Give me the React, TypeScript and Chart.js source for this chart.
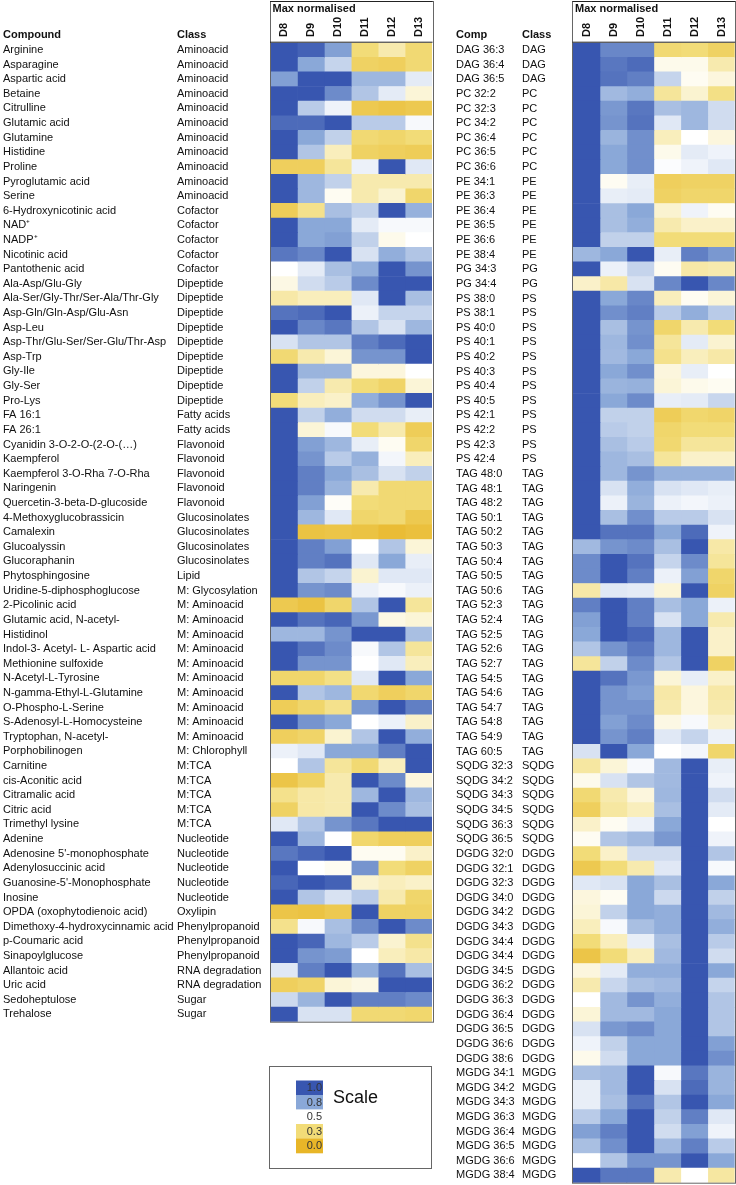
import React, { useEffect, useRef } from "react";
import { Chart, registerables } from "chart.js";

Chart.register(...registerables);

const COLUMNS = ["D8", "D9", "D10", "D11", "D12", "D13"];
const LEGEND_TICKS = [1.0, 0.8, 0.5, 0.3, 0.0];
const LEGEND_LABELS = ["1.0", "0.8", "0.5", "0.3", "0.0"];

const LEFT_COMPOUNDS = [
  "Arginine", "Asparagine", "Aspartic acid", "Betaine", "Citrulline", "Glutamic acid", "Glutamine",
  "Histidine", "Proline", "Pyroglutamic acid", "Serine", "6-Hydroxynicotinic acid", "NAD⁺", "NADP⁺",
  "Nicotinic acid", "Pantothenic acid", "Ala-Asp/Glu-Gly", "Ala-Ser/Gly-Thr/Ser-Ala/Thr-Gly",
  "Asp-Gln/Gln-Asp/Glu-Asn", "Asp-Leu", "Asp-Thr/Glu-Ser/Ser-Glu/Thr-Asp", "Asp-Trp", "Gly-Ile",
  "Gly-Ser", "Pro-Lys", "FA 16:1", "FA 26:1", "Cyanidin 3-O-2-O-(2-O-(…)", "Kaempferol",
  "Kaempferol 3-O-Rha 7-O-Rha", "Naringenin", "Quercetin-3-beta-D-glucoside", "4-Methoxyglucobrassicin",
  "Camalexin", "Glucoalyssin", "Glucoraphanin", "Phytosphingosine", "Uridine-5-diphosphoglucose",
  "2-Picolinic acid", "Glutamic acid, N-acetyl-", "Histidinol", "Indol-3- Acetyl- L- Aspartic acid",
  "Methionine sulfoxide", "N-Acetyl-L-Tyrosine", "N-gamma-Ethyl-L-Glutamine", "O-Phospho-L-Serine",
  "S-Adenosyl-L-Homocysteine", "Tryptophan, N-acetyl-", "Porphobilinogen", "Carnitine",
  "cis-Aconitic acid", "Citramalic acid", "Citric acid", "Trimethyl lysine", "Adenine",
  "Adenosine 5'-monophosphate", "Adenylosuccinic acid", "Guanosine-5'-Monophosphate", "Inosine",
  "OPDA (oxophytodienoic acid)", "Dimethoxy-4-hydroxycinnamic acid", "p-Coumaric acid",
  "Sinapoylglucose", "Allantoic acid", "Uric acid", "Sedoheptulose", "Trehalose",
];

const LEFT_CLASSES = [
  ...Array(11).fill("Aminoacid"),
  ...Array(5).fill("Cofactor"),
  ...Array(9).fill("Dipeptide"),
  ...Array(2).fill("Fatty acids"),
  ...Array(5).fill("Flavonoid"),
  ...Array(4).fill("Glucosinolates"),
  "Lipid",
  "M: Glycosylation",
  ...Array(10).fill("M: Aminoacid"),
  "M: Chlorophyll",
  ...Array(5).fill("M:TCA"),
  ...Array(5).fill("Nucleotide"),
  "Oxylipin",
  ...Array(3).fill("Phenylpropanoid"),
  ...Array(2).fill("RNA degradation"),
  ...Array(2).fill("Sugar"),
];

const LEFT_VALUES = [
  [1.0, 0.97, 0.82, 0.3, 0.38, 0.28],
  [1.0, 0.8, 0.65, 0.22, 0.2, 0.28],
  [0.82, 1.0, 1.0, 0.75, 0.75, 0.57],
  [1.0, 1.0, 0.87, 0.7, 0.57, 0.44],
  [1.0, 0.68, 0.54, 0.15, 0.12, 0.15],
  [0.95, 0.95, 1.0, 0.68, 0.68, 0.52],
  [1.0, 0.8, 0.66, 0.28, 0.25, 0.3],
  [1.0, 0.7, 0.4, 0.22, 0.2, 0.18],
  [0.2, 0.2, 0.35, 0.55, 1.0, 0.58],
  [1.0, 0.75, 0.66, 0.38, 0.38, 0.38],
  [1.0, 0.75, 0.48, 0.38, 0.43, 0.25],
  [0.18, 0.33, 0.72, 0.66, 1.0, 0.77],
  [1.0, 0.8, 0.8, 0.57, 0.52, 0.52],
  [1.0, 0.8, 0.82, 0.66, 0.47, 0.5],
  [0.92, 0.88, 1.0, 0.6, 0.78, 0.7],
  [0.5, 0.57, 0.72, 0.78, 1.0, 0.85],
  [0.46, 0.62, 0.68, 0.87, 1.0, 1.0],
  [0.37, 0.4, 0.4, 0.58, 1.0, 0.72],
  [0.93, 0.95, 1.0, 0.55, 0.65, 0.65],
  [1.0, 0.88, 0.92, 0.7, 0.6, 0.75],
  [0.6, 0.7, 0.7, 0.9, 0.95, 1.0],
  [0.28, 0.38, 0.44, 0.85, 0.85, 1.0],
  [1.0, 0.76, 0.76, 0.45, 0.45, 0.5],
  [1.0, 0.66, 0.38, 0.3, 0.24, 0.44],
  [0.3, 0.4, 0.42, 0.78, 0.85, 1.0],
  [1.0, 0.66, 0.78, 0.62, 0.62, 0.56],
  [1.0, 0.44, 0.52, 0.3, 0.38, 0.18],
  [1.0, 0.82, 0.75, 0.56, 0.48, 0.25],
  [1.0, 0.85, 0.68, 0.77, 0.53, 0.4],
  [1.0, 0.9, 0.8, 0.72, 0.6, 0.66],
  [1.0, 0.9, 0.76, 0.38, 0.28, 0.28],
  [1.0, 0.82, 0.49, 0.3, 0.28, 0.28],
  [1.0, 0.75, 0.58, 0.25, 0.28, 0.15],
  [1.0, 0.1, 0.12, 0.1, 0.05, 0.08],
  [1.0, 0.9, 0.82, 0.5, 0.7, 0.44],
  [1.0, 0.9, 0.93, 0.58, 0.8, 0.56],
  [1.0, 0.7, 0.65, 0.43, 0.58, 0.58],
  [1.0, 0.85, 0.87, 0.55, 0.52, 0.55],
  [0.15, 0.1, 0.25, 0.7, 1.0, 0.35],
  [1.0, 0.93, 0.96, 0.84, 0.46, 0.44],
  [0.75, 0.75, 0.85, 1.0, 1.0, 0.72],
  [1.0, 0.93, 0.87, 0.52, 0.7, 0.35],
  [1.0, 0.85, 0.85, 0.5, 0.58, 0.4],
  [0.25, 0.25, 0.32, 0.58, 1.0, 0.8],
  [1.0, 0.7, 0.75, 0.27, 0.2, 0.25],
  [0.18, 0.25, 0.33, 0.84, 1.0, 0.9],
  [1.0, 0.85, 0.8, 0.5, 0.55, 0.42],
  [0.2, 0.24, 0.43, 0.7, 1.0, 0.78],
  [0.55, 0.58, 0.8, 0.8, 0.9, 1.0],
  [0.5, 0.7, 0.35, 0.28, 0.4, 1.0],
  [0.12, 0.22, 0.38, 1.0, 0.87, 0.45],
  [0.33, 0.37, 0.38, 0.75, 1.0, 0.75],
  [0.22, 0.37, 0.38, 1.0, 0.87, 0.72],
  [0.58, 0.7, 0.85, 0.92, 1.0, 1.0],
  [1.0, 0.75, 0.5, 0.26, 0.2, 0.2],
  [0.92, 0.96, 1.0, 0.48, 0.48, 0.42],
  [1.0, 0.5, 0.48, 0.85, 0.3, 0.22],
  [0.96, 1.0, 0.97, 0.43, 0.4, 0.42],
  [1.0, 0.7, 0.6, 0.68, 0.38, 0.25],
  [0.12, 0.1, 0.15, 1.0, 0.22, 0.22],
  [0.33, 0.52, 0.72, 0.87, 1.0, 0.87],
  [1.0, 0.96, 0.75, 0.68, 0.43, 0.33],
  [1.0, 0.85, 0.83, 0.5, 0.4, 0.37],
  [0.58, 0.9, 1.0, 0.78, 0.93, 0.72],
  [0.2, 0.24, 0.44, 0.46, 1.0, 1.0],
  [0.63, 0.76, 1.0, 0.9, 0.9, 0.87],
  [1.0, 0.6, 0.6, 0.28, 0.28, 0.26],
];

const RIGHT_COMPOUNDS = [
  "DAG 36:3", "DAG 36:4", "DAG 36:5", "PC 32:2", "PC 32:3", "PC 34:2", "PC 36:4", "PC 36:5", "PC 36:6",
  "PE 34:1", "PE 36:3", "PE 36:4", "PE 36:5", "PE 36:6", "PE 38:4", "PG 34:3", "PG 34:4",
  "PS 38:0", "PS 38:1", "PS 40:0", "PS 40:1", "PS 40:2", "PS 40:3", "PS 40:4", "PS 40:5",
  "PS 42:1", "PS 42:2", "PS 42:3", "PS 42:4",
  "TAG 48:0", "TAG 48:1", "TAG 48:2", "TAG 50:1", "TAG 50:2", "TAG 50:3", "TAG 50:4", "TAG 50:5",
  "TAG 50:6", "TAG 52:3", "TAG 52:4", "TAG 52:5", "TAG 52:6", "TAG 52:7", "TAG 54:5", "TAG 54:6",
  "TAG 54:7", "TAG 54:8", "TAG 54:9", "TAG 60:5",
  "SQDG 32:3", "SQDG 34:2", "SQDG 34:3", "SQDG 34:5", "SQDG 36:3", "SQDG 36:5",
  "DGDG 32:0", "DGDG 32:1", "DGDG 32:3", "DGDG 34:0", "DGDG 34:2", "DGDG 34:3", "DGDG 34:4",
  "DGDG 34:4", "DGDG 34:5", "DGDG 36:2", "DGDG 36:3", "DGDG 36:4", "DGDG 36:5", "DGDG 36:6",
  "DGDG 38:6",
  "MGDG 34:1", "MGDG 34:2", "MGDG 34:3", "MGDG 36:3", "MGDG 36:4", "MGDG 36:5", "MGDG 36:6",
  "MGDG 38:4",
];

const RIGHT_CLASSES = RIGHT_COMPOUNDS.map((c) => c.split(" ")[0]);

const RIGHT_VALUES = [
  [1.0, 0.88, 0.88, 0.28, 0.3, 0.22],
  [1.0, 0.92, 0.95, 0.47, 0.47, 0.38],
  [1.0, 0.93, 0.9, 0.65, 0.48, 0.45],
  [1.0, 0.74, 0.78, 0.35, 0.43, 0.32],
  [1.0, 0.84, 0.92, 0.72, 0.75, 0.62],
  [1.0, 0.85, 0.93, 0.58, 0.75, 0.62],
  [1.0, 0.76, 0.86, 0.4, 0.5, 0.45],
  [1.0, 0.8, 0.86, 0.47, 0.57, 0.54],
  [1.0, 0.8, 0.86, 0.51, 0.54, 0.58],
  [1.0, 0.48, 0.56, 0.2, 0.22, 0.22],
  [1.0, 0.56, 0.57, 0.22, 0.25, 0.25],
  [1.0, 0.72, 0.8, 0.43, 0.54, 0.48],
  [1.0, 0.72, 0.78, 0.38, 0.42, 0.42],
  [1.0, 0.66, 0.66, 0.3, 0.3, 0.3],
  [0.75, 0.8, 1.0, 0.56, 0.9, 0.84],
  [1.0, 0.55, 0.65, 0.48, 0.37, 0.38],
  [0.42, 0.37, 0.6, 0.88, 1.0, 0.88],
  [1.0, 0.8, 0.88, 0.4, 0.48, 0.44],
  [1.0, 0.86, 0.9, 0.68, 0.78, 0.68],
  [1.0, 0.72, 0.85, 0.25, 0.38, 0.3],
  [1.0, 0.75, 0.86, 0.35, 0.57, 0.43],
  [1.0, 0.74, 0.8, 0.33, 0.4, 0.37],
  [1.0, 0.8, 0.86, 0.45, 0.56, 0.5],
  [1.0, 0.76, 0.77, 0.44, 0.47, 0.48],
  [1.0, 0.8, 0.87, 0.56, 0.57, 0.64],
  [1.0, 0.66, 0.66, 0.18, 0.26, 0.24],
  [1.0, 0.68, 0.66, 0.25, 0.3, 0.3],
  [1.0, 0.72, 0.68, 0.27, 0.35, 0.35],
  [1.0, 0.75, 0.72, 0.35, 0.42, 0.42],
  [1.0, 0.75, 0.85, 0.77, 0.77, 0.77],
  [1.0, 0.6, 0.78, 0.6, 0.58, 0.56],
  [1.0, 0.55, 0.76, 0.55, 0.53, 0.55],
  [1.0, 0.72, 0.86, 0.68, 0.68, 0.6],
  [1.0, 0.93, 0.93, 0.8, 0.95, 0.54],
  [0.74, 0.85, 0.87, 0.72, 1.0, 0.37],
  [0.87, 1.0, 0.93, 0.65, 0.87, 0.35],
  [0.87, 1.0, 0.9, 0.55, 0.82, 0.25],
  [0.37, 0.58, 0.57, 0.44, 1.0, 0.22],
  [0.9, 1.0, 0.9, 0.72, 0.8, 0.55],
  [0.82, 1.0, 0.9, 0.6, 0.8, 0.38],
  [0.8, 1.0, 0.96, 0.75, 1.0, 0.42],
  [0.7, 0.85, 0.92, 0.75, 1.0, 0.42],
  [0.35, 0.66, 0.87, 0.7, 1.0, 0.22],
  [1.0, 0.93, 0.84, 0.44, 0.56, 0.42],
  [1.0, 0.85, 0.82, 0.37, 0.45, 0.37],
  [1.0, 0.85, 0.85, 0.38, 0.45, 0.38],
  [1.0, 0.82, 0.87, 0.46, 0.52, 0.42],
  [1.0, 0.85, 0.9, 0.58, 0.65, 0.55],
  [0.6, 1.0, 0.8, 0.5, 0.53, 0.25],
  [0.36, 0.44, 0.52, 0.74, 1.0, 0.56],
  [0.47, 0.6, 0.7, 0.74, 1.0, 0.54],
  [0.28, 0.38, 0.45, 0.75, 1.0, 0.62],
  [0.2, 0.36, 0.4, 0.72, 1.0, 0.57],
  [0.42, 0.48, 0.55, 0.8, 1.0, 0.5],
  [0.48, 0.7, 0.74, 0.84, 1.0, 0.54],
  [0.3, 0.42, 0.62, 0.62, 1.0, 0.7],
  [0.15, 0.3, 0.38, 0.58, 1.0, 0.52],
  [0.58, 0.6, 0.8, 0.72, 1.0, 0.8],
  [0.45, 0.48, 0.8, 0.63, 1.0, 0.66],
  [0.44, 0.66, 0.8, 0.78, 1.0, 0.74],
  [0.4, 0.52, 0.72, 0.78, 1.0, 0.78],
  [0.3, 0.4, 0.56, 0.72, 1.0, 0.68],
  [0.12, 0.3, 0.4, 0.74, 1.0, 0.62],
  [0.45, 0.57, 0.78, 0.78, 1.0, 0.8],
  [0.38, 0.64, 0.72, 0.74, 1.0, 0.65],
  [0.5, 0.74, 0.85, 0.78, 1.0, 0.7],
  [0.44, 0.74, 0.74, 0.8, 1.0, 0.7],
  [0.6, 0.84, 0.87, 0.8, 1.0, 0.7],
  [0.54, 0.66, 0.8, 0.8, 1.0, 0.82],
  [0.47, 0.62, 0.8, 0.8, 1.0, 0.86],
  [0.72, 0.74, 1.0, 0.52, 0.92, 0.76],
  [0.56, 0.74, 1.0, 0.6, 0.95, 0.76],
  [0.56, 0.72, 0.93, 0.7, 1.0, 0.8],
  [0.68, 0.8, 1.0, 0.66, 0.9, 0.58],
  [0.82, 0.9, 1.0, 0.62, 0.82, 0.54],
  [0.72, 0.86, 1.0, 0.74, 0.9, 0.68],
  [0.5, 0.7, 0.85, 0.85, 1.0, 0.8],
  [1.0, 0.92, 0.92, 0.38, 0.5, 0.36],
];

const STOPS: [number, number[]][] = [
  [0.0, [232, 182, 40]],
  [0.3, [242, 220, 120]],
  [0.5, [255, 255, 255]],
  [0.8, [138, 168, 216]],
  [1.0, [56, 86, 176]],
];

function colorFor(v: number): string {
  const x = Math.max(0, Math.min(1, v));
  for (let i = 0; i < STOPS.length - 1; i++) {
    const [a, ca] = STOPS[i];
    const [b, cb] = STOPS[i + 1];
    if (x >= a && x <= b) {
      const t = (x - a) / (b - a);
      const c = ca.map((k, j) => Math.round(k + (cb[j] - k) * t));
      return `rgb(${c[0]},${c[1]},${c[2]})`;
    }
  }
  return "rgb(56,86,176)";
}

const FONT = "'Liberation Sans', Arial, sans-serif";

type PanelCfg = {
  compounds: string[];
  classes: string[];
  values: number[][];
  compHeader: string;
  compX: number;
  classX: number;
  width: number;
  padLeft: number;
  padRight: number;
  padBottom: number;
  legend: boolean;
};

function makeLabelPlugin(cfg: PanelCfg) {
  return {
    id: "heatLabels",
    afterDraw(chart: any) {
      const ctx = chart.ctx as CanvasRenderingContext2D;
      const y = chart.scales.y;
      const x = chart.scales.x;
      const area = chart.chartArea;
      const rowH = (area.bottom - area.top) / cfg.compounds.length;
      ctx.save();
      ctx.fillStyle = "#111";
      ctx.textBaseline = "middle";
      ctx.textAlign = "left";
      // headers
      ctx.font = `bold 11px ${FONT}`;
      const hy = y.getPixelForValue(0) - rowH;
      ctx.fillText(cfg.compHeader, cfg.compX, hy);
      ctx.fillText("Class", cfg.classX, hy);
      ctx.font = `11px ${FONT}`;
      cfg.compounds.forEach((c, i) => {
        const py = y.getPixelForValue(i);
        ctx.fillText(c, cfg.compX, py);
        ctx.fillText(cfg.classes[i], cfg.classX, py);
      });
      // header box
      ctx.font = `bold 11px ${FONT}`;
      ctx.fillText("Max normalised", area.left + 2, 9);
      COLUMNS.forEach((col, j) => {
        const cx = (x.getPixelForValue(j) + x.getPixelForValue(j + 1)) / 2;
        ctx.save();
        ctx.translate(cx + 0.5, 37);
        ctx.rotate(-Math.PI / 2);
        ctx.textAlign = "left";
        ctx.textBaseline = "middle";
        ctx.fillText(col, 0, 0);
        ctx.restore();
      });
      ctx.strokeStyle = "#666";
      ctx.lineWidth = 1;
      ctx.strokeRect(Math.round(area.left) - 0.5, 1.5, Math.round(area.right - area.left) + 1, area.bottom - 1);
      ctx.strokeStyle = "#222";
      ctx.beginPath();
      ctx.moveTo(area.left - 0.5, 1.5);
      ctx.lineTo(area.right + 0.5, 1.5);
      ctx.moveTo(area.left - 0.5, area.top - 0.5);
      ctx.lineTo(area.right + 0.5, area.top - 0.5);
      ctx.stroke();

      if (cfg.legend) {
        ctx.strokeStyle = "#666";
        ctx.strokeRect(269.5, 1066.5, 162, 102);
        const sx = 296;
        const sw = 27;
        const sh = 14.5;
        LEGEND_TICKS.forEach((v, i) => {
          const sy = 1080.5 + i * sh;
          ctx.fillStyle = colorFor(v);
          ctx.fillRect(sx, sy, sw, sh + 0.3);
          ctx.fillStyle = "#333";
          ctx.font = `11px ${FONT}`;
          ctx.textAlign = "right";
          ctx.textBaseline = "middle";
          ctx.fillText(LEGEND_LABELS[i], sx + sw - 1, sy + sh / 2 + 0.5);
        });
        ctx.fillStyle = "#111";
        ctx.font = `18px ${FONT}`;
        ctx.textAlign = "left";
        ctx.textBaseline = "middle";
        ctx.fillText("Scale", 333, 1098);
      }
      ctx.restore();
    },
  };
}

function HeatPanel({ cfg, left }: { cfg: PanelCfg; left: number }) {
  const ref = useRef<HTMLCanvasElement | null>(null);
  useEffect(() => {
    if (!ref.current) return;
    const datasets = COLUMNS.map((col, j) => ({
      label: col,
      data: cfg.values.map(() => 1),
      backgroundColor: cfg.values.map((row) => colorFor(row[j])),
      borderWidth: 0,
      categoryPercentage: 1,
      barPercentage: 1,
    }));
    const chart = new Chart(ref.current, {
      type: "bar",
      data: { labels: cfg.compounds, datasets },
      options: {
        indexAxis: "y",
        responsive: false,
        maintainAspectRatio: false,
        animation: false,
        layout: {
          padding: { left: cfg.padLeft, right: cfg.padRight, top: 42.7, bottom: cfg.padBottom },
        },
        scales: {
          x: { type: "linear", stacked: true, min: 0, max: 6, display: false },
          y: { type: "category", stacked: true, display: false },
        },
        plugins: { legend: { display: false }, tooltip: { enabled: false } },
      },
      plugins: [makeLabelPlugin(cfg)],
    } as any);
    return () => chart.destroy();
  }, [cfg]);
  return (
    <canvas
      ref={ref}
      width={cfg.width}
      height={1185}
      style={{ position: "absolute", left, top: 0, width: cfg.width, height: 1185, display: "block" }}
    />
  );
}

const LEFT_CFG: PanelCfg = {
  compounds: LEFT_COMPOUNDS,
  classes: LEFT_CLASSES,
  values: LEFT_VALUES,
  compHeader: "Compound",
  compX: 3,
  classX: 177,
  width: 440,
  padLeft: 270.5,
  padRight: 8,
  padBottom: 1185 - 1021.7,
  legend: true,
};

const RIGHT_CFG: PanelCfg = {
  compounds: RIGHT_COMPOUNDS,
  classes: RIGHT_CLASSES,
  values: RIGHT_VALUES,
  compHeader: "Comp",
  compX: 16,
  classX: 82,
  width: 296,
  padLeft: 133,
  padRight: 1.3,
  padBottom: 2.3,
  legend: false,
};

export default function App() {
  return (
    <div style={{ position: "absolute", left: 0, top: 0, width: 736, height: 1185, background: "#fff", overflow: "hidden" }}>
      <HeatPanel cfg={LEFT_CFG} left={0} />
      <HeatPanel cfg={RIGHT_CFG} left={440} />
    </div>
  );
}
